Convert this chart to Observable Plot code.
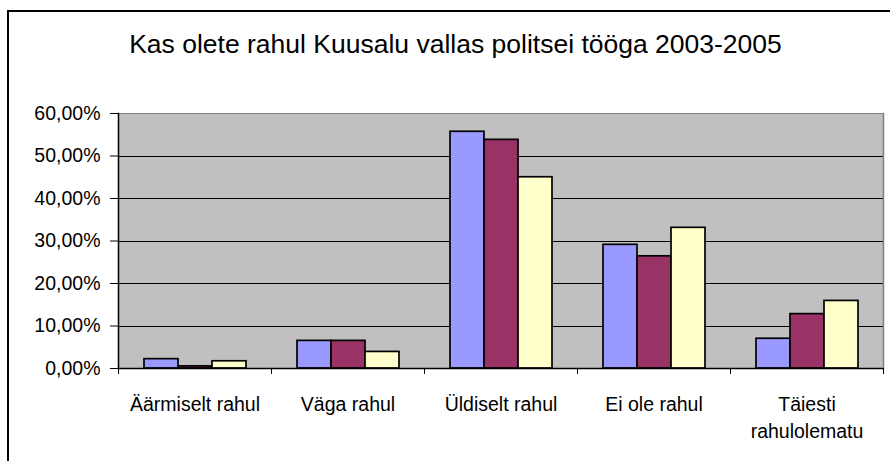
<!DOCTYPE html>
<html>
<head>
<meta charset="utf-8">
<script src="https://cdn.jsdelivr.net/npm/d3@7"></script>
<script src="https://cdn.jsdelivr.net/npm/@observablehq/plot@0.6"></script>
<style>
  html, body { margin: 0; padding: 0; background: white; overflow: hidden; }
  body { width: 890px; height: 461px; position: relative; font-family: "Liberation Sans", Arial, sans-serif; }
  #chart { position: absolute; left: 0; top: 0; }
  #title { position: absolute; left: 20px; width: 871px; top: 30.6px; text-align: center; font-size: 26.5px; line-height: 1; color: black; white-space: nowrap; }
  #border { position: absolute; left: 7px; top: 10px; width: 883px; height: 451px; border-left: 2px solid black; border-top: 2px solid black; box-sizing: border-box; }
</style>
</head>
<body>
<div id="chart"></div>
<div id="title">Kas olete rahul Kuusalu vallas politsei tööga 2003-2005</div>
<div id="border"></div>
<script>
const categories = ["Äärmiselt rahul", "Väga rahul", "Üldiselt rahul", "Ei ole rahul", "Täiesti rahulolematu"];
const categoryLabels = ["Äärmiselt rahul", "Väga rahul", "Üldiselt rahul", "Ei ole rahul", "Täiesti\nrahulolematu"];
const series = ["2003", "2004", "2005"];
const values2003 = [2.2, 6.5, 55.7, 29.1, 7.0];
const values2004 = [0.5, 6.5, 53.8, 26.4, 12.8];
const values2005 = [1.7, 3.9, 45.0, 33.1, 15.9];
const yTicks = [0, 10, 20, 30, 40, 50, 60];
const gridTicks = [10, 20, 30, 40, 50];
const colors = ["#9999ff", "#993366", "#ffffcc"];

const seriesValues = [values2003, values2004, values2005];
const data = [];
categories.forEach((c, i) => {
  series.forEach((s, j) => data.push({cat: c, year: s, value: seriesValues[j][i]}));
});
const labelOf = new Map(categories.map((c, i) => [c, categoryLabels[i]]));
const fmt = d => d.toFixed(2).replace(".", ",") + "%";

const W = 890, H = 461;
const mTop = 113, mBottom = 93, mLeft = 116, mRight = 6;
const plotH = H - mTop - mBottom;

const chart = Plot.plot({
  width: W,
  height: H,
  marginTop: mTop,
  marginBottom: mBottom,
  marginLeft: mLeft,
  marginRight: mRight,
  style: {fontFamily: "'Liberation Sans', Arial, sans-serif", fontSize: "19px", color: "black", background: "transparent"},
  fx: {domain: categories, padding: 0, label: null},
  x: {domain: series, paddingInner: 0, paddingOuter: 0.75, axis: null},
  y: {domain: [0, 60], axis: null},
  color: {domain: series, range: colors},
  marks: [
    Plot.frame({fill: "#c0c0c0", shapeRendering: "crispEdges"}),
    Plot.ruleY(gridTicks, {stroke: "black", strokeWidth: 1, shapeRendering: "crispEdges"}),
    Plot.ruleY([60], {stroke: "#808080", strokeWidth: 1.5, shapeRendering: "crispEdges"}),
    Plot.frame({anchor: "right", stroke: "#808080", strokeWidth: 1.5, fx: categories[categories.length - 1]}),
    Plot.barY(data, {fx: "cat", x: "year", y: "value", fill: "year", stroke: "black", strokeWidth: 1.7}),
    Plot.ruleY([0], {stroke: "black", strokeWidth: 1.5}),
    Plot.frame({anchor: "left", stroke: "black", strokeWidth: 1.5, fx: categories[0]}),
    Plot.frame({anchor: "left", stroke: "black", strokeWidth: 1, insetTop: plotH, insetBottom: -5}),
    Plot.frame({anchor: "right", stroke: "black", strokeWidth: 1, insetTop: plotH, insetBottom: -5, fx: categories[categories.length - 1]}),
    Plot.axisY(yTicks, {anchor: "left", tickSize: 8, tickPadding: 10, tickFormat: fmt, fontSize: 19.5, label: null, stroke: "black"}),
    Plot.axisFx({anchor: "bottom", tickSize: 0, tickPadding: 22.5, tickFormat: d => labelOf.get(d), fontSize: 19.5, lineHeight: 1.42, label: null})
  ]
});
document.getElementById("chart").appendChild(chart);
</script>
</body>
</html>
